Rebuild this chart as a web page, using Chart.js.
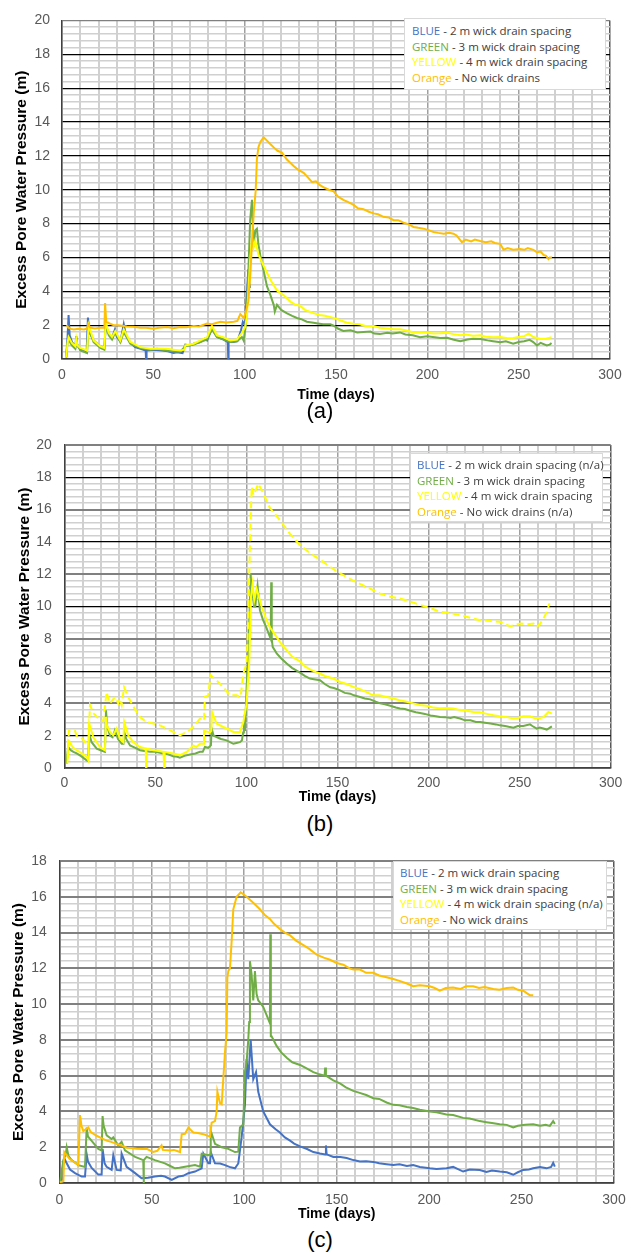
<!DOCTYPE html>
<html>
<head>
<meta charset="utf-8">
<script src="https://cdn.jsdelivr.net/npm/chart.js@4"></script>
<style>
  body { margin: 0; background: #fff; width: 635px; height: 1253px; position: relative; overflow: hidden; }
  canvas { position: absolute; left: 0; }
  .legend { position: absolute; background: #fff; border: 1px solid #d9d9d9; box-sizing: border-box;
            font-family: "Open Sans", sans-serif; font-size: 11.5px; color: #404040; }
  .legend div { height: 15.5px; line-height: 15.5px; white-space: nowrap; }
  .cap { position: absolute; left: 0; width: 640px; text-align: center;
         font-family: "Liberation Sans", Arial, sans-serif; font-size: 22px; color: #000; }
</style>
</head>
<body>
<canvas id="chartA" width="635" height="405" style="top:0px"></canvas>
<canvas id="chartB" width="635" height="387" style="top:420px"></canvas>
<canvas id="chartC" width="635" height="384" style="top:840px"></canvas>

<div class="legend" style="left:404px;top:18px;width:202px;height:72px;padding:4px 0 0 7px">
  <div><span style="color:#4472C4">BLUE</span> - 2 m wick drain spacing</div>
  <div><span style="color:#70AD47">GREEN</span> - 3 m wick drain spacing</div>
  <div><span style="color:#FFFF00">YELLOW</span> - 4 m wick drain spacing</div>
  <div><span style="color:#FFC000">Orange</span> - No wick drains</div>
</div>
<div class="legend" style="left:410px;top:453px;width:193px;height:69px;padding:3px 0 0 6px">
  <div><span style="color:#4472C4">BLUE</span> - 2 m wick drain spacing (n/a)</div>
  <div><span style="color:#70AD47">GREEN</span> - 3 m wick drain spacing</div>
  <div><span style="color:#FFFF00">YELLOW</span> - 4 m wick drain spacing</div>
  <div><span style="color:#FFC000">Orange</span> - No wick drains (n/a)</div>
</div>
<div class="legend" style="left:393px;top:861px;width:214px;height:69px;padding:3px 0 0 6px">
  <div><span style="color:#4472C4">BLUE</span> - 2 m wick drain spacing</div>
  <div><span style="color:#70AD47">GREEN</span> - 3 m wick drain spacing</div>
  <div><span style="color:#FFFF00">YELLOW</span> - 4 m wick drain spacing (n/a)</div>
  <div><span style="color:#FFC000">Orange</span> - No wick drains</div>
</div>

<div class="cap" style="top:398px">(a)</div>
<div class="cap" style="top:811px">(b)</div>
<div class="cap" style="top:1227px">(c)</div>

<script>
// tick labels
const xTickLabels = [0, 50, 100, 150, 200, 250, 300];
const yTickLabels20 = [0, 2, 4, 6, 8, 10, 12, 14, 16, 18, 20];
const yTickLabels18 = [0, 2, 4, 6, 8, 10, 12, 14, 16, 18];

// (a) [day, excess pore pressure m]
const aBlue = [[2.3,0.1],[3.0,1.2],[3.6,2.6],[4.2,1.4],[5.5,1.0],[7.3,0.75],[7.8,1.35],[8.3,0.8],[10,0.6],[13.5,0.45],[14.2,2.45],[15,1.6],[17.3,1.1],[21,0.75],[23.2,0.65],[23.9,2.0],[25.6,1.5],[27.4,1.25],[29,1.75],[30,1.3],[32,1.05],[33.8,2.05],[35,1.4],[37.4,0.95],[40,0.7],[43,0.6],[45.8,0.5],[46.0,0.0],[46.3,0.5],[50,0.55],[55,0.5],[58,0.45],[61,0.35],[63,0.4],[66,0.35],[67.5,0.85],[70,0.8],[72,0.9],[75.7,1.0],[78,1.2],[79.4,1.1],[82.1,1.8],[84.8,1.3],[88.5,1.15],[90.8,1.0],[91.0,0.0],[91.2,1.0],[94,1.0],[96,1.05],[98,1.7],[99,2.2],[100.2,2.0],[101,3.5],[102,5.3],[102.5,4.5],[103,4.2]];
const aGreen = [[2.3,0.1],[3.0,1.0],[3.6,1.15],[5.4,0.8],[7.3,0.6],[7.8,1.0],[10,0.5],[13.7,0.35],[14.5,1.8],[17.3,1.0],[21,0.65],[23.2,0.55],[23.9,2.0],[25.6,1.4],[27.4,1.15],[29.2,1.6],[31.9,1.0],[33.8,1.6],[37.4,0.9],[42.9,0.65],[48.4,0.55],[52,0.6],[57.5,0.5],[62,0.45],[64.8,0.45],[67.5,0.75],[72.1,0.85],[75.7,1.0],[79.4,1.15],[82.1,1.75],[84.8,1.3],[88.5,1.15],[92.1,1.0],[95.8,1.05],[98.5,1.3],[99.4,1.1],[100.4,1.8],[101.2,2.8],[102.2,5.7],[103,8.2],[104,9.4],[104.9,6.6],[105.8,7.6],[106.7,7.7],[107.5,6.8],[108.6,6.1],[110.4,5.2],[112.2,4.3],[114,3.8],[115.9,3.2],[116.5,2.8],[117.7,3.2],[120,2.9],[123.2,2.7],[126,2.55],[128.6,2.42],[131,2.35],[134,2.2],[137.7,2.14],[140,2.1],[143,2.05],[146.9,2.05],[149,1.95],[151,1.8],[154,1.66],[158,1.7],[161.6,1.57],[165,1.6],[168.9,1.62],[171,1.5],[174,1.47],[178,1.55],[181,1.5],[185,1.57],[188,1.45],[192,1.4],[196,1.28],[200,1.35],[203,1.3],[207,1.24],[211,1.25],[214,1.15],[218,1.05],[222,1.15],[225,1.2],[229,1.18],[233,1.1],[236,1.05],[240,0.99],[243,1.05],[247,0.9],[250,1.0],[253,1.05],[256,1.13],[258,1.0],[260,0.8],[262,0.95],[265.4,0.8],[267,0.85],[268,0.94]];
const aYellow = [[2.3,0.1],[3.0,0.9],[3.6,1.3],[5.4,0.95],[7.3,0.75],[7.8,1.2],[8.5,0.8],[10,0.65],[13.7,0.5],[14.6,2.0],[17.3,1.1],[21,0.75],[23.2,0.65],[23.9,2.2],[25.6,1.55],[27.4,1.3],[29.2,1.65],[31.9,1.1],[33.8,1.75],[37.4,1.0],[42.9,0.7],[48.4,0.6],[52,0.62],[57.5,0.6],[61,0.55],[64.8,0.5],[67,0.55],[67.5,0.8],[72.1,0.9],[75.7,1.1],[79.4,1.28],[82.1,1.95],[84.8,1.4],[88.5,1.28],[92.1,1.1],[95.8,1.15],[98.5,1.55],[100.3,1.9],[101.2,2.5],[102.2,4.3],[103,5.8],[104,7.2],[104.9,6.6],[105.8,7.0],[107.6,6.15],[110.4,5.5],[114,4.7],[117.7,4.05],[121.4,3.76],[125.1,3.38],[128,3.2],[130.4,3.15],[133,2.9],[137.7,2.71],[141,2.6],[144,2.55],[148.7,2.43],[152,2.3],[156,2.14],[159.6,2.08],[163,2.05],[166,1.95],[170.6,1.95],[174,1.85],[178,1.8],[181.5,1.76],[185,1.75],[188,1.7],[192.4,1.57],[196,1.58],[200,1.55],[203.4,1.51],[207,1.52],[211,1.55],[214.3,1.47],[218,1.4],[221,1.45],[225,1.38],[229,1.4],[232,1.32],[236,1.28],[240,1.3],[244,1.22],[247,1.24],[250,1.3],[253,1.35],[255.5,1.5],[258,1.3],[262,1.18],[265,1.2],[268,1.28]];
const aOrange = [[2.5,2.0],[3.5,1.85],[5,1.78],[6.4,1.75],[9,1.78],[12,1.75],[13.7,1.8],[14.3,2.05],[15.5,1.85],[18,1.8],[21,1.84],[23.2,1.85],[23.6,3.3],[24.2,2.2],[26,2.1],[28.3,2.0],[31,2.0],[35.6,1.92],[39,1.9],[42.9,1.84],[46,1.85],[50.2,1.79],[53,1.85],[57.5,1.89],[61,1.82],[64.8,1.89],[68,1.88],[72.1,1.95],[75,1.92],[79.4,2.1],[82,2.05],[86.7,2.2],[90,2.15],[94,2.2],[96,2.25],[97.6,2.65],[99.5,2.42],[100.7,2.8],[102,3.4],[103.1,5.0],[104,6.8],[105,8.7],[106,9.9],[106.7,11.8],[107.5,12.5],[108.5,12.8],[110.4,13.1],[112.2,12.9],[114,12.7],[115.9,12.5],[118,12.3],[120.4,12.2],[123,11.8],[126.8,11.4],[129,11.2],[132.3,11.0],[134,10.8],[136.9,10.45],[139,10.5],[141.4,10.25],[144,10.1],[146,10.0],[148.7,9.9],[151,9.6],[154,9.4],[157,9.25],[159.6,9.1],[162,8.9],[165,8.85],[168,8.7],[170.6,8.6],[173,8.55],[176,8.4],[179,8.35],[181.5,8.2],[184,8.2],[187,8.05],[190,7.95],[192.4,7.8],[195,7.75],[198,7.7],[201,7.6],[203.4,7.5],[206,7.45],[209,7.4],[212,7.45],[214.3,7.4],[216,7.3],[218.9,6.9],[221,7.05],[224,6.95],[226,7.05],[228.9,6.97],[232,6.9],[235,6.95],[237,6.85],[239.9,6.8],[241.7,6.45],[244,6.55],[247,6.45],[250.8,6.5],[253,6.45],[255,6.55],[258.1,6.45],[260,6.3],[262,6.35],[263.6,6.15],[265,6.1],[266.3,5.9],[267,6.0],[268.2,6.0]];

// (b)
const bGreen = [[1.3,0.27],[1.8,1.0],[2.2,1.3],[3.5,1.1],[5,1.0],[6.8,0.9],[9,0.75],[12.3,0.48],[13.0,0.45],[13.7,2.1],[15,1.6],[17.8,1.2],[20,1.1],[22.3,1.0],[22.9,3.57],[23.5,2.6],[25.1,2.0],[26.5,1.9],[27.8,2.33],[29.5,1.8],[31.5,1.5],[32.5,1.5],[32.9,2.23],[34,1.8],[36.1,1.4],[39,1.25],[41.5,1.1],[44,1.05],[47,1.0],[50,1.0],[54.4,0.9],[57,0.85],[59.8,0.72],[62,0.7],[63.5,0.64],[66,0.75],[69,0.83],[72,0.9],[74.5,1.0],[76,1.0],[77.2,1.3],[79,1.25],[80.5,1.4],[80.9,2.44],[82,2.0],[83.6,1.92],[86,1.8],[89.1,1.71],[91,1.6],[92.8,1.5],[94.5,1.55],[96.4,1.6],[97.5,1.7],[98.2,2.2],[98.6,2.4],[99.0,3.3],[99.2,2.3],[100.1,5.0],[101,7.1],[101.7,9.5],[102.3,12.05],[102.8,11.0],[103.4,10.8],[104.2,10.0],[104.9,10.0],[105.5,10.8],[106.1,11.3],[107.4,9.77],[109,9.2],[111.1,8.64],[113.3,8.0],[113.6,11.5],[113.9,8.0],[114.4,7.5],[116.6,7.1],[119,6.8],[122.1,6.47],[125,6.2],[129.4,5.9],[132,5.7],[134.9,5.54],[137,5.5],[140.4,5.43],[143,5.2],[146,5.0],[148,4.95],[151.4,4.81],[154,4.65],[157,4.6],[159,4.5],[162.4,4.4],[165,4.3],[168,4.25],[171,4.1],[173.4,4.0],[176,3.95],[179,3.85],[182,3.75],[184.3,3.68],[187,3.65],[190,3.55],[193,3.45],[195.3,3.41],[198,3.35],[201,3.25],[204,3.2],[206.3,3.16],[209,3.15],[212,3.1],[214,3.15],[217.3,3.06],[220,2.95],[223,2.95],[226,2.85],[228.3,2.85],[231,2.8],[234,2.75],[237,2.7],[239.2,2.64],[242,2.6],[244,2.55],[246.6,2.5],[249,2.6],[252,2.6],[255.7,2.7],[257,2.6],[259.4,2.44],[261,2.5],[263,2.45],[264.9,2.38],[266,2.45],[267.7,2.58]];
const bYellow = [[1.7,0.28],[2.2,1.7],[3,1.6],[4.5,1.3],[6.8,1.1],[9,0.95],[12.3,0.68],[13.2,0.48],[13.7,2.75],[15.9,1.9],[19.6,1.3],[22.3,1.1],[22.9,3.16],[23.5,2.6],[25.1,2.23],[26.9,2.02],[28.7,2.44],[30.6,1.8],[32.4,1.6],[32.9,2.85],[35.1,2.02],[37.9,1.6],[41.5,1.3],[44.7,1.2],[44.9,0],[45.1,1.2],[48.9,1.1],[52,1.05],[54.4,1.0],[54.9,0],[55.1,1.0],[59.8,0.9],[63.5,0.8],[67.2,1.0],[70.8,1.4],[72.5,1.3],[74.5,1.5],[76.5,1.5],[76.7,2.3],[80,2.2],[80.7,2.3],[81.1,3.47],[83.6,2.75],[87.3,2.54],[90,2.4],[92.8,2.23],[96.4,2.23],[98.3,2.85],[100.1,4.0],[101.6,6.7],[102.5,10.6],[103.4,11.4],[104.3,10.4],[105.6,11.1],[108.3,10.0],[111.1,9.15],[113,8.7],[116.6,8.1],[119,7.7],[122.1,7.3],[125,6.9],[129.4,6.6],[132,6.3],[135.8,6.05],[138,5.95],[140.4,5.85],[143,5.7],[147.7,5.54],[151,5.35],[155,5.2],[158.7,5.02],[162,4.9],[166,4.7],[169.6,4.5],[173,4.5],[177,4.4],[180.6,4.3],[184,4.2],[188,4.1],[191.6,4.0],[195,3.9],[199,3.85],[202.6,3.74],[206,3.7],[210,3.72],[213.6,3.68],[217,3.6],[221,3.55],[224.6,3.47],[228,3.45],[232,3.35],[235.6,3.26],[239,3.2],[243,3.15],[246.6,3.06],[249,3.1],[252,3.2],[255.7,3.2],[258,3.1],[261.2,3.1],[263,3.15],[265.8,3.47],[267.7,3.37]];
const bYellowDash = [[2.0,0.6],[2.5,2.3],[4,2.35],[5.9,2.3],[6.8,2.0],[8.6,1.9],[10,1.8],[11.4,1.6],[13.2,1.6],[14.1,3.9],[15.9,3.4],[19.6,3.0],[21.4,2.9],[22.7,4.2],[23.2,4.7],[25,4.0],[27.8,4.4],[29.6,4.0],[30.5,4.3],[31.5,3.9],[32.8,5.0],[35.1,4.4],[37.9,3.8],[41.5,3.16],[45.2,2.85],[48.9,2.75],[52.5,2.64],[56.2,2.44],[59.8,2.23],[63.5,2.02],[67.2,2.23],[70.8,2.54],[74.5,3.06],[76.7,2.95],[77.2,4.4],[79,4.5],[80.3,5.74],[83.6,5.43],[87.3,5.0],[91,4.5],[94.6,4.5],[96.8,4.4],[98.3,5.85],[100.1,6.47],[101,9.15],[102,14.3],[102.9,17.4],[103.8,16.9],[104.7,17.1],[106.5,17.6],[109.3,17.0],[112.9,16.1],[118.4,15.35],[123.9,14.5],[129.4,13.8],[135,13.3],[140.4,12.9],[146,12.45],[151.4,12.05],[157,11.7],[162.4,11.4],[168,11.1],[173.4,10.8],[179,10.6],[184.3,10.5],[190,10.3],[195.3,10.1],[201,9.9],[206.3,9.67],[212,9.6],[217.3,9.46],[223,9.3],[228.3,9.15],[234,9.1],[239.2,9.05],[244.7,8.78],[250.2,8.95],[254,8.9],[257.6,8.95],[259.4,8.74],[261,8.9],[263.1,9.26],[264.9,9.67],[266.4,10.2]];

// (c)
const cBlue = [[1.3,0.0],[2.2,1.2],[3.1,1.3],[4,1.1],[5.8,0.75],[8.5,0.55],[12.1,0.36],[13.9,0.36],[14.8,1.6],[15.5,1.2],[17.5,0.84],[21.1,0.47],[22.9,0.47],[23.4,1.9],[24.5,1.1],[25.6,0.9],[28.3,0.73],[29.2,1.55],[31,0.73],[33.2,0.7],[33.7,1.64],[36.4,0.9],[41,0.55],[44.5,0.27],[48,0.3],[51.7,0.36],[55,0.4],[57.1,0.36],[60.8,0.18],[64.4,0.36],[67,0.4],[69.8,0.55],[73.4,0.64],[77,0.82],[77.9,1.64],[80.6,1.1],[81.5,1.1],[81.9,1.73],[84.2,1.1],[87,1.09],[89.6,1.0],[92,0.9],[95,0.82],[96.8,1.09],[98.6,2.55],[100.4,4.37],[101.3,6.93],[102.2,5.8],[103.5,8.0],[104.9,5.8],[106.4,6.2],[107.6,5.1],[110.3,4.0],[113.9,3.28],[117,3.0],[119.3,2.82],[122,2.55],[124.8,2.37],[127,2.2],[130.2,2.05],[134,1.9],[137.4,1.73],[141,1.65],[143.8,1.6],[144.2,2.1],[144.6,1.6],[148.2,1.46],[152,1.45],[155.4,1.4],[159,1.28],[162.6,1.2],[166,1.22],[169.8,1.18],[173,1.1],[177,1.05],[180.6,1.0],[184,1.05],[188,0.95],[191.4,1.0],[195,0.9],[200.4,0.82],[204,0.78],[209.4,0.82],[213,0.9],[218.4,0.64],[222,0.75],[227.4,0.73],[231,0.62],[234,0.7],[238.2,0.64],[242,0.6],[245.5,0.46],[248,0.6],[250.9,0.73],[254,0.75],[256.3,0.82],[260,0.9],[263.5,0.82],[266,0.9],[267.1,1.13],[268,0.91]];
const cGreen = [[0.4,0.02],[2.2,1.28],[3.5,1.6],[4,2.0],[5,1.5],[6.7,1.28],[10.3,1.0],[13.9,0.9],[14.8,3.1],[15.5,2.6],[17.5,2.36],[21.1,1.91],[22.9,1.82],[23.4,3.74],[24,3.2],[25.6,2.66],[28.3,2.46],[29.2,2.55],[31.9,2.1],[33.7,2.3],[35.5,1.82],[41,1.46],[45.4,1.28],[45.6,0],[45.8,1.28],[47.2,1.46],[51.7,1.28],[57.1,1.1],[60,0.95],[62.6,0.82],[65,0.85],[68,0.91],[73.4,1.0],[76.1,0.91],[77,1.64],[80.6,1.55],[81.6,1.6],[81.9,2.92],[84.2,2.19],[87.8,2.0],[91.4,1.91],[95,1.73],[96.8,1.75],[97.7,3.1],[99.5,3.27],[100.4,6.2],[101.3,6.74],[102.2,8.0],[102.7,9.0],[103.1,12.4],[104,11.66],[104.9,10.2],[105.8,11.85],[106.7,10.56],[107.6,10.2],[108.5,10.1],[110.3,9.84],[113.9,8.93],[114.1,13.9],[114.4,8.2],[114.8,8.2],[117.6,7.65],[120,7.3],[123,7.0],[126,6.75],[130.2,6.6],[134,6.4],[137.4,6.2],[140,6.1],[143.5,6.0],[143.8,6.45],[144.2,6.0],[148.2,5.74],[152,5.55],[155,5.35],[159,5.15],[162,5.05],[166,4.92],[169.8,4.74],[173,4.7],[177,4.5],[180.6,4.37],[184,4.35],[188,4.25],[191.4,4.19],[195,4.1],[200.4,4.0],[204,3.95],[209.4,3.83],[213,3.8],[218.4,3.64],[222,3.6],[227.4,3.46],[231,3.4],[234,3.35],[238.2,3.28],[242,3.25],[245.5,3.1],[248,3.2],[252,3.25],[256.3,3.28],[260,3.2],[263,3.25],[265.3,3.19],[267.1,3.46],[268,3.3]];
const cOrange = [[0.4,0.05],[2.2,0.1],[2.7,1.73],[4,1.55],[5.5,1.35],[7.6,1.2],[10.3,1.0],[11.2,3.8],[12,3.2],[13,2.9],[15.7,3.1],[17,2.85],[20.2,2.64],[23,2.5],[25.6,2.37],[28,2.3],[31,2.19],[33.5,2.1],[36.4,1.97],[39,1.95],[41.8,1.91],[45,1.9],[47.2,1.91],[50.8,1.73],[53,1.8],[55.3,2.1],[56,1.85],[59.9,1.82],[62,1.85],[65.3,1.73],[66.2,2.73],[68,2.75],[69.8,3.1],[72.5,2.82],[75,2.8],[77.9,2.73],[81.5,2.59],[82.4,3.37],[84.2,3.46],[85.1,4.0],[85.5,5.1],[86.9,4.46],[87.8,4.4],[88.7,5.83],[89.6,7.3],[90.5,8.4],[90.9,11.5],[91.4,11.85],[92.3,12.0],[93.2,13.5],[94.1,15.3],[95.9,16.0],[98.1,16.25],[101.3,16.0],[104.9,15.67],[108.5,15.3],[111,15.0],[113.9,14.76],[116,14.5],[119.3,14.2],[122,14.0],[124.8,13.85],[128,13.55],[132,13.3],[135,13.1],[139.2,12.76],[143,12.6],[146.4,12.48],[150,12.3],[153.6,12.2],[157,12.0],[159,11.93],[162.6,11.93],[166,11.75],[169.8,11.75],[173,11.6],[177,11.5],[180.6,11.4],[184,11.3],[188,11.15],[191.4,11.0],[195,11.05],[200.4,11.0],[203,10.9],[205.8,10.75],[209,10.9],[213,10.93],[217,10.85],[220,11.0],[223.9,11.0],[227,10.9],[230,10.95],[234.7,10.84],[238,10.8],[242,10.9],[245.5,10.93],[248,10.8],[250.9,10.75],[253,10.6],[254.5,10.5],[256.3,10.5]];

const BLUE = '#4472C4', GREEN = '#70AD47', YELLOW = '#FFFF00', ORANGE = '#FFC000';
const axisFont = '"Liberation Sans", Arial, sans-serif';

function isIn(list, v) {
    return list.some(t => Math.abs(t - v) < 1e-6);
}

function makeChart(id, cfg) {
    const ctx = document.getElementById(id).getContext('2d');
    return new Chart(ctx, {
        type: 'line',
        data: {
            datasets: cfg.series.map(s => ({
                data: s.data.map(p => ({ x: p[0], y: p[1] })),
                borderColor: s.color,
                borderWidth: 2,
                borderDash: s.dash || [],
                pointRadius: 0,
                fill: false,
                tension: 0,
                order: s.order
            }))
        },
        options: {
            responsive: false,
            animation: false,
            events: [],
            layout: { padding: cfg.pad },
            plugins: { legend: { display: false }, tooltip: { enabled: false } },
            scales: {
                x: {
                    type: 'linear', min: 0, max: 300,
                    afterFit: s => { s.height = cfg.xh; },
                    ticks: {
                        stepSize: 10, autoSkip: false, maxRotation: 0, padding: cfg.xpad,
                        color: '#595959', font: { size: 14, family: axisFont },
                        callback: v => isIn(xTickLabels, v) ? v : ''
                    },
                    grid: {
                        drawTicks: false,
                        color: c => c.tick.value >= 300 ? '#595959' : (c.tick.value % 50 === 0 ? '#a0a0a0' : '#d0d0d0'),
                        lineWidth: c => c.tick.value % 50 === 0 ? 1.5 : 2
                    },
                    border: { color: '#404040', width: 1.5 },
                    title: {
                        display: true, text: 'Time (days)', color: '#000',
                        font: { size: 14, weight: 'bold', family: axisFont },
                        padding: { top: 0, bottom: 1.6 }
                    }
                },
                y: {
                    type: 'linear', min: 0, max: cfg.ymax,
                    afterFit: s => { s.width = cfg.yw; },
                    ticks: {
                        stepSize: 0.4, autoSkip: false, padding: cfg.ypad,
                        color: '#595959', font: { size: 14, family: axisFont },
                        callback: v => isIn(cfg.ylabels, v) ? v : ''
                    },
                    grid: {
                        drawTicks: false,
                        color: c => isIn(cfg.ylabels, c.tick.value) ? cfg.majorColor(c.tick.value) : '#d0d0d0',
                        lineWidth: c => isIn(cfg.ylabels, c.tick.value) ? cfg.majorWidth(c.tick.value) : 1.5
                    },
                    border: { color: '#404040', width: 1.5 },
                    title: {
                        display: true, text: 'Excess Pore Water Pressure (m)', color: '#000',
                        font: { size: 15.5, weight: 'bold', family: axisFont },
                        padding: { top: cfg.ytitlePad, bottom: 0 }
                    }
                }
            }
        }
    });
}

makeChart('chartA', {
    series: [
        { data: aBlue, color: BLUE, order: 4 },
        { data: aGreen, color: GREEN, order: 3 },
        { data: aYellow, color: YELLOW, order: 2 },
        { data: aOrange, color: ORANGE, order: 1 }
    ],
    pad: { top: 9.5, right: 25, left: 0, bottom: 0 },
    xh: 46, yw: 62, xpad: 7.6, ypad: 12, ymax: 20, ytitlePad: 12.7,
    ylabels: yTickLabels20,
    majorColor: v => v >= 20 ? '#808080' : '#000',
    majorWidth: v => 1.2
});

makeChart('chartB', {
    series: [
        { data: bGreen, color: GREEN, order: 3 },
        { data: bYellow, color: YELLOW, order: 2 },
        { data: bYellowDash, color: YELLOW, dash: [7, 4], order: 1 }
    ],
    pad: { top: 25, right: 24.3, left: 0, bottom: 0 },
    xh: 39, yw: 64.3, xpad: 6.6, ypad: 12.6, ymax: 20, ytitlePad: 15.7,
    ylabels: yTickLabels20,
    majorColor: v => (v / 2) % 2 === 1 ? '#000' : '#808080',
    majorWidth: v => (v / 2) % 2 === 1 ? 1.2 : 2
});

makeChart('chartC', {
    series: [
        { data: cBlue, color: BLUE, order: 3 },
        { data: cGreen, color: GREEN, order: 2 },
        { data: cOrange, color: ORANGE, order: 1 }
    ],
    pad: { top: 14, right: 21, left: 0, bottom: 0 },
    xh: 41, yw: 59.3, xpad: 8.6, ypad: 12.6, ymax: 18, ytitlePad: 9.7,
    ylabels: yTickLabels18,
    majorColor: v => '#808080',
    majorWidth: v => 2
});
</script>
</body>
</html>
